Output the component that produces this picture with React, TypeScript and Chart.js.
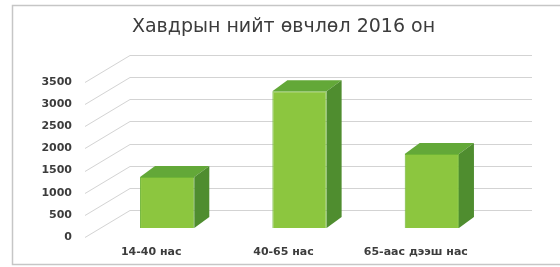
import React, { useEffect, useRef } from "react";
import { Chart, registerables } from "chart.js";

Chart.register(...registerables);

// ---- data ----
const chartTitle = "Хавдрын нийт өвчлөл 2016 он";
const categories = ["14-40 нас", "40-65 нас", "65-аас дээш нас"];
const values = [1150, 3090, 1670];
const yTickValues = [0, 500, 1000, 1500, 2000, 2500, 3000, 3500];

// ---- geometry / style ----
const FRONT_SHIFT = { x: 16, y: -9 };
const BAR_DEPTH = { x: 15, y: -11 };
const WALL_DEPTH = { x: 45, y: -27 };
const FRONT_COLOR = "#8cc63f";
const FRONT_EDGE = "#6fb536";
const TOP_COLOR = "#63a838";
const SIDE_COLOR = "#4f8d2f";
const GRID_COLOR = "#d3d3d3";
const TEXT_COLOR = "#3c3c3c";
const FONT = "'DejaVu Sans', sans-serif";

const framePlugin = {
  id: "frame",
  beforeDraw(chart: any) {
    const { ctx, width, height } = chart;
    ctx.save();
    ctx.fillStyle = "#ffffff";
    ctx.fillRect(0, 0, width, height);
    ctx.strokeStyle = "#c6c6c6";
    ctx.lineWidth = 1.5;
    ctx.strokeRect(12.5, 5.5, width, 259);
    ctx.restore();
  },
};

const threeDPlugin = {
  id: "threeD",
  beforeDatasetsDraw(chart: any) {
    const { ctx, chartArea } = chart;
    const y = chart.scales.y;
    ctx.save();
    ctx.strokeStyle = GRID_COLOR;
    ctx.lineWidth = 1;
    y.ticks.forEach((t: any) => {
      const py = Math.round(y.getPixelForValue(t.value)) + 0.5;
      ctx.beginPath();
      ctx.moveTo(chartArea.left, py);
      ctx.lineTo(chartArea.left + WALL_DEPTH.x, py + WALL_DEPTH.y);
      ctx.lineTo(chartArea.right + 50, py + WALL_DEPTH.y);
      ctx.stroke();
    });
    ctx.restore();
    ctx.save();
    ctx.translate(FRONT_SHIFT.x, FRONT_SHIFT.y);
  },
  afterDatasetsDraw(chart: any) {
    const { ctx } = chart;
    const meta = chart.getDatasetMeta(0);
    meta.data.forEach((el: any) => {
      const { x, y, base, width } = el.getProps(["x", "y", "base", "width"], true);
      const x0 = x - width / 2;
      const x1 = x + width / 2;
      const dx = BAR_DEPTH.x;
      const dy = BAR_DEPTH.y;
      ctx.fillStyle = TOP_COLOR;
      ctx.beginPath();
      ctx.moveTo(x0, y);
      ctx.lineTo(x1, y);
      ctx.lineTo(x1 + dx, y + dy);
      ctx.lineTo(x0 + dx, y + dy);
      ctx.closePath();
      ctx.fill();
      ctx.fillStyle = SIDE_COLOR;
      ctx.beginPath();
      ctx.moveTo(x1, y);
      ctx.lineTo(x1 + dx, y + dy);
      ctx.lineTo(x1 + dx, base + dy);
      ctx.lineTo(x1, base);
      ctx.closePath();
      ctx.fill();
    });
    ctx.restore();
  },
};

export default function App() {
  const canvasRef = useRef<HTMLCanvasElement | null>(null);

  useEffect(() => {
    if (!canvasRef.current) return;
    const chart = new Chart(canvasRef.current, {
      type: "bar",
      data: {
        labels: categories,
        datasets: [
          {
            data: values,
            backgroundColor: FRONT_COLOR,
            borderColor: FRONT_EDGE,
            borderWidth: 1,
            barPercentage: 0.41,
            categoryPercentage: 1,
          },
        ],
      },
      options: {
        responsive: false,
        animation: false,
        devicePixelRatio: 1,
        layout: { padding: { top: 16, left: 16, right: 78, bottom: 0 } },
        plugins: {
          legend: { display: false },
          tooltip: { enabled: false },
          title: {
            display: true,
            text: chartTitle,
            fullSize: false,
            color: TEXT_COLOR,
            font: { family: FONT, size: 19, weight: "normal" },
            padding: { top: 0, bottom: 43.2 },
          },
        },
        scales: {
          x: {
            grid: { display: false, drawTicks: false },
            border: { display: false },
            ticks: {
              color: TEXT_COLOR,
              font: { family: FONT, size: 11, weight: "bold" },
              padding: 9,
              maxRotation: 0,
            },
            afterFit: (s: any) => {
              s.height = 30;
            },
          },
          y: {
            min: yTickValues[0],
            max: yTickValues[yTickValues.length - 1],
            grid: { display: false, drawTicks: false },
            border: { display: false },
            afterBuildTicks: (s: any) => {
              s.ticks = yTickValues.map((v) => ({ value: v }));
            },
            ticks: {
              color: TEXT_COLOR,
              font: { family: FONT, size: 11, weight: "bold" },
              padding: 13,
              callback: (v: any) => String(v),
            },
            afterFit: (s: any) => {
              s.width = 69;
            },
          },
        },
      },
      plugins: [framePlugin, threeDPlugin],
    });
    return () => chart.destroy();
  }, []);

  return (
    <div style={{ position: "fixed", left: 0, top: 0, width: 560, height: 267, background: "#fff" }}>
      <canvas ref={canvasRef} width={560} height={267} style={{ display: "block", width: 560, height: 267 }} />
    </div>
  );
}
